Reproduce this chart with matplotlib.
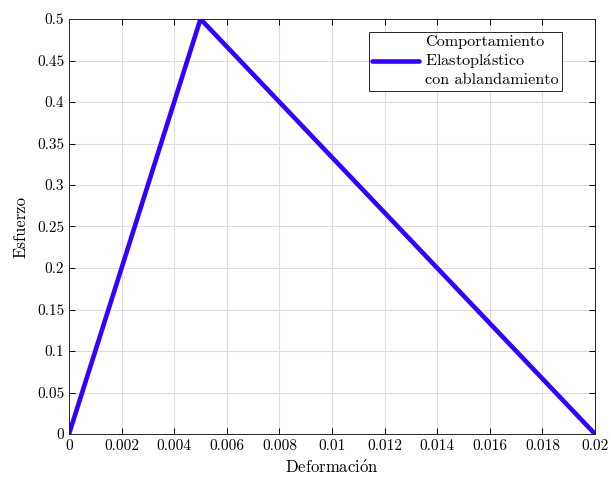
import matplotlib
matplotlib.use("Agg")
import matplotlib.pyplot as plt
from matplotlib.ticker import FormatStrFormatter, MultipleLocator

# --- DATA ---
deformacion = [0.0, 0.005, 0.02]
esfuerzo = [0.0, 0.5, 0.0]
LABEL = "Comportamiento\nElastopl$\\acute{\\mathrm{a}}$stico\ncon ablandamiento"
XLABEL = "Deformaci$\\acute{\\mathrm{o}}$n"
LINE_COLOR = "#3300ff"

plt.rcParams["font.family"] = ["cmr10", "DejaVu Serif"]
plt.rcParams["mathtext.fontset"] = "cm"
plt.rcParams["axes.formatter.use_mathtext"] = True
plt.rcParams["font.size"] = 11

fig = plt.figure(figsize=(6.11, 4.80), dpi=100)
ax = fig.add_axes([69 / 611, 1 - 434 / 480, 526 / 611, 415 / 480])

ax.plot(deformacion, esfuerzo, color=LINE_COLOR, linewidth=3.3,
        solid_capstyle="round", label=LABEL)

ax.set_xlim(0, 0.02)
ax.set_ylim(0, 0.5)
ax.xaxis.set_major_locator(MultipleLocator(0.002))
ax.yaxis.set_major_locator(MultipleLocator(0.05))
ax.xaxis.set_major_formatter(FormatStrFormatter("%g"))
ax.yaxis.set_major_formatter(FormatStrFormatter("%g"))

ax.grid(True, color="#dcdcdc", linewidth=0.8)
ax.set_axisbelow(True)
ax.tick_params(direction="in", top=True, right=True, length=4, width=0.7, labelsize=11)
for sp in ax.spines.values():
    sp.set_linewidth(0.7)
    sp.set_color("#262626")

ax.set_xlabel(XLABEL, fontsize=12, labelpad=4)
ax.set_ylabel("Esfuerzo", fontsize=12, labelpad=6)

leg = ax.legend(loc="upper right", bbox_to_anchor=(562 / 611, 1 - 32 / 480),
                bbox_transform=fig.transFigure, fancybox=False, framealpha=1,
                edgecolor="#262626", fontsize=11.7, handlelength=2.9,
                borderpad=0.2, handletextpad=0.35, borderaxespad=0)
leg.get_frame().set_linewidth(0.7)
for t in leg.get_texts():
    t.set_linespacing(1.22)

fig.savefig("out.png", dpi=100)
